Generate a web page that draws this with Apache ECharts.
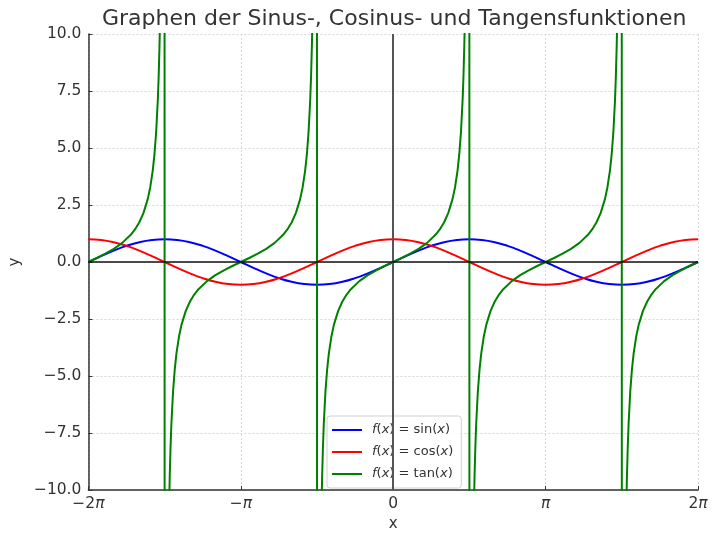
<!DOCTYPE html>
<html>
<head>
<meta charset="utf-8">
<script src="https://cdn.jsdelivr.net/npm/echarts@6/dist/echarts.min.js"></script>
<style>html,body{margin:0;padding:0;background:#fff}#c{width:720px;height:542px}</style>
</head>
<body>
<div id="c"></div>
<script>
// x in degrees (−360° … 360° = −2π … 2π)
const xDeg = [-360,-345,-330,-315,-300,-285,-270,-255,-240,-225,-210,-195,-180,-165,-150,-135,-120,-105,-90,-75,-60,-45,-30,-15,0,15,30,45,60,75,90,105,120,135,150,165,180,195,210,225,240,255,270,285,300,315,330,345,360];
const sinVals = [0,0.259,0.5,0.707,0.866,0.966,1,0.966,0.866,0.707,0.5,0.259,0,-0.259,-0.5,-0.707,-0.866,-0.966,-1,-0.966,-0.866,-0.707,-0.5,-0.259,0,0.259,0.5,0.707,0.866,0.966,1,0.966,0.866,0.707,0.5,0.259,0,-0.259,-0.5,-0.707,-0.866,-0.966,-1,-0.966,-0.866,-0.707,-0.5,-0.259,0];
const cosVals = [1,0.966,0.866,0.707,0.5,0.259,0,-0.259,-0.5,-0.707,-0.866,-0.966,-1,-0.966,-0.866,-0.707,-0.5,-0.259,0,0.259,0.5,0.707,0.866,0.966,1,0.966,0.866,0.707,0.5,0.259,0,-0.259,-0.5,-0.707,-0.866,-0.966,-1,-0.966,-0.866,-0.707,-0.5,-0.259,0,0.259,0.5,0.707,0.866,0.966,1];
const tanX = [
 -360,-350,-340,-330,-320,-310,-305,-300,-295,-290,-287,-284,-282,-280,-278,-277,-276,-275,-273,-270.5,
 -269.5,-267,-265,-264,-263,-262,-260,-258,-256,-253,-250,-245,-240,-235,-230,-220,-210,-200,-190,
 -180,-170,-160,-150,-140,-130,-125,-120,-115,-110,-107,-104,-102,-100,-98,-97,-96,-95,-93,-90.5,
 -89.5,-87,-85,-84,-83,-82,-80,-78,-76,-73,-70,-65,-60,-55,-50,-40,-30,-20,-10,
 0,10,20,30,40,50,55,60,65,70,73,76,78,80,82,83,84,85,87,89.5,
 90.5,93,95,96,97,98,100,102,104,107,110,115,120,125,130,140,150,160,170,
 180,190,200,210,220,230,235,240,245,250,253,256,258,260,262,263,264,265,267,269.5,
 270.5,273,275,276,277,278,280,282,284,287,290,295,300,305,310,320,330,340,350,
 360];
const tanVals = [
 0,0.176,0.364,0.577,0.839,1.192,1.428,1.732,2.145,2.747,3.271,4.011,4.705,5.671,7.115,8.144,9.514,11.43,19.08,114.6,
 -114.6,-19.08,-11.43,-9.514,-8.144,-7.115,-5.671,-4.705,-4.011,-3.271,-2.747,-2.145,-1.732,-1.428,-1.192,-0.839,-0.577,-0.364,-0.176,
 0,0.176,0.364,0.577,0.839,1.192,1.428,1.732,2.145,2.747,3.271,4.011,4.705,5.671,7.115,8.144,9.514,11.43,19.08,114.6,
 -114.6,-19.08,-11.43,-9.514,-8.144,-7.115,-5.671,-4.705,-4.011,-3.271,-2.747,-2.145,-1.732,-1.428,-1.192,-0.839,-0.577,-0.364,-0.176,
 0,0.176,0.364,0.577,0.839,1.192,1.428,1.732,2.145,2.747,3.271,4.011,4.705,5.671,7.115,8.144,9.514,11.43,19.08,114.6,
 -114.6,-19.08,-11.43,-9.514,-8.144,-7.115,-5.671,-4.705,-4.011,-3.271,-2.747,-2.145,-1.732,-1.428,-1.192,-0.839,-0.577,-0.364,-0.176,
 0,0.176,0.364,0.577,0.839,1.192,1.428,1.732,2.145,2.747,3.271,4.011,4.705,5.671,7.115,8.144,9.514,11.43,19.08,114.6,
 -114.6,-19.08,-11.43,-9.514,-8.144,-7.115,-5.671,-4.705,-4.011,-3.271,-2.747,-2.145,-1.732,-1.428,-1.192,-0.839,-0.577,-0.364,-0.176,
 0];
const xTickLabels = ['\u22122{p|\u03c0}','\u2212{p|\u03c0}','0','{p|\u03c0}','2{p|\u03c0}'];
const seriesNames = ['sin','cos','tan'];
const seriesColors = ['#0000ff','#ff0000','#008000'];
const titleText = 'Graphen der Sinus-, Cosinus- und Tangensfunktionen';

const pair = (xs, ys) => xs.map((x, i) => [x, ys[i]]);
const font = 'DejaVu Sans';
const chart = echarts.init(document.getElementById('c'), null, {renderer: 'canvas'});
const lineSeries = (name, xs, ys, color, smooth) => ({
  name, type: 'line', data: pair(xs, ys), showSymbol: false, symbol: 'none',
  smooth,
  lineStyle: {color, width: 2}, itemStyle: {color}, clip: true, z: 3, animation: false
});
chart.setOption({
  animation: false,
  title: {text: titleText, left: 97, top: 3,
    textStyle: {fontFamily: font, fontSize: 22, fontWeight: 'normal', color: '#333'}},
  grid: {left: 88, right: 22, top: 34, bottom: 52, containLabel: false},
  legend: {
    data: seriesNames, orient: 'vertical', left: 327, top: 416,
    icon: 'rect', itemWidth: 30, itemHeight: 2, itemGap: 6,
    padding: [6, 8, 6, 5], borderColor: '#d0d0d0', borderWidth: 1, borderRadius: 3,
    backgroundColor: 'rgba(255,255,255,0.85)',
    textStyle: {fontFamily: font, fontSize: 13, color: '#333', lineHeight: 16,
      rich: {f: {fontFamily: font, fontStyle: 'italic', fontSize: 13, color: '#333', padding: [0, 0, 0, 5]},
             i: {fontFamily: font, fontStyle: 'italic', fontSize: 13, color: '#333'},
             n: {fontFamily: font, fontSize: 13, color: '#333'}}},
    formatter: name => '{f|f}{n|(}{i|x}{n|) = ' + name + '(}{i|x}{n|)}'
  },
  xAxis: {
    type: 'value', min: -360, max: 360, interval: 180,
    name: 'x', nameLocation: 'middle', nameGap: 24,
    nameTextStyle: {fontFamily: font, fontSize: 15, color: '#333'},
    axisLine: {show: true, onZero: false, lineStyle: {color: '#333', width: 1.5}},
    axisTick: {show: true, inside: true, length: 4, lineStyle: {color: '#333'}},
    axisLabel: {fontFamily: font, fontSize: 15.5, color: '#333', margin: 6,
      rich: {p: {fontFamily: font, fontStyle: 'italic', fontSize: 15.5, color: '#333'}},
      formatter: v => xTickLabels[Math.round((v + 360) / 180)]},
    splitLine: {show: true, lineStyle: {color: '#d8d8d8', type: [2, 2], width: 1}}
  },
  yAxis: {
    type: 'value', min: -10, max: 10, interval: 2.5,
    name: 'y', nameLocation: 'middle', nameGap: 58, nameRotate: 90,
    nameTextStyle: {fontFamily: font, fontSize: 15, color: '#333'},
    axisLine: {show: true, onZero: false, lineStyle: {color: '#333', width: 1.5}},
    axisTick: {show: true, inside: true, length: 4, lineStyle: {color: '#333'}},
    axisLabel: {fontFamily: font, fontSize: 15.5, color: '#333', margin: 7,
      formatter: v => v.toFixed(1).replace('-', '\u2212')},
    splitLine: {show: true, lineStyle: {color: '#d8d8d8', type: [2, 2], width: 1}}
  },
  series: [
    {type: 'line', data: [], silent: true, z: 1,
      markLine: {silent: true, symbol: 'none', label: {show: false}, animation: false,
        data: [
          {xAxis: 0, lineStyle: {color: '#555', width: 2, type: 'solid'}},
          {yAxis: 0, lineStyle: {color: '#111', width: 1.5, type: 'solid'}}
        ]}},
    lineSeries(seriesNames[0], xDeg, sinVals, seriesColors[0], true),
    lineSeries(seriesNames[1], xDeg, cosVals, seriesColors[1], true),
    lineSeries(seriesNames[2], tanX, tanVals, seriesColors[2], false)
  ]
});
</script>
</body>
</html>
